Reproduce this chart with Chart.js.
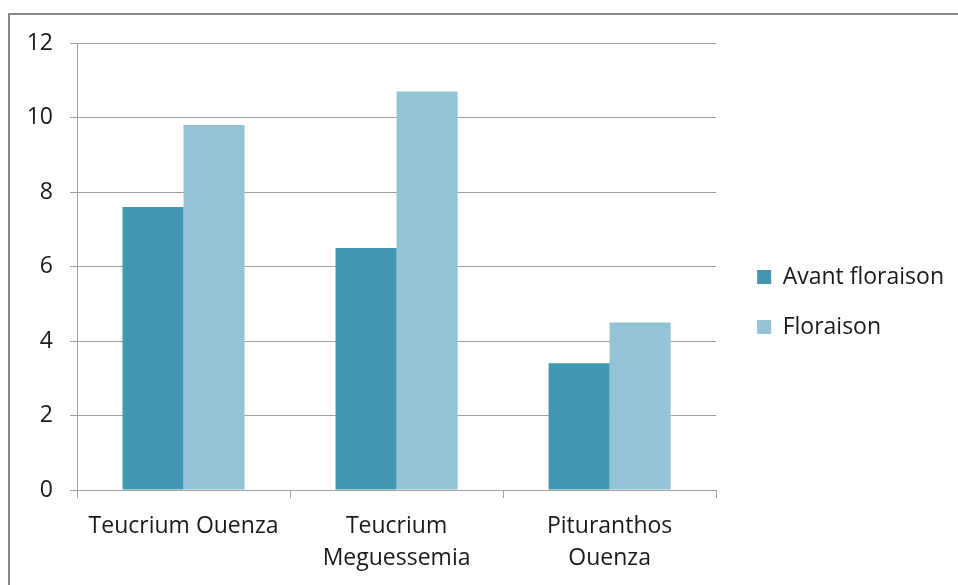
<!DOCTYPE html>
<html>
<head>
<meta charset="utf-8">
<script src="https://cdn.jsdelivr.net/npm/chart.js@4.4.1/dist/chart.umd.min.js"></script>
<style>
  html, body { margin: 0; padding: 0; background: #fff; overflow: hidden; }
  #frame { position: absolute; left: 8px; top: 13px; width: 1100px; height: 800px; border: 2px solid #878787; }
  #wrap { position: absolute; left: 0; top: 0; width: 958px; height: 585px; }
</style>
</head>
<body>
<div id="frame"></div>
<div id="wrap"><canvas id="chart" width="958" height="585"></canvas></div>
<script>
// plant / site groups
const categories = [["Teucrium Ouenza"], ["Teucrium", "Meguessemia"], ["Pituranthos", "Ouenza"]];
const avantFloraison = [7.6, 6.5, 3.4];
const floraison = [9.8, 10.7, 4.5];
const yTicks = [0, 2, 4, 6, 8, 10, 12];

const FONT = "'Open Sans', 'Liberation Sans', sans-serif";
const GRID = "#a0a0a0";

// nudge the legend block a little right and up
const legendNudge = {
  id: 'legendNudge',
  afterLayout(chart) {
    const l = chart.legend;
    l.left += 14; l.right += 14;
    l.top -= 12; l.bottom -= 12;
  }
};

const ctx = document.getElementById('chart');
const chart = new Chart(ctx, {
  type: 'bar',
  data: {
    labels: categories,
    datasets: [
      { label: 'Avant floraison', data: avantFloraison, backgroundColor: '#4397b0' },
      { label: 'Floraison', data: floraison, backgroundColor: '#93c3d4' }
    ]
  },
  plugins: [legendNudge],
  options: {
    responsive: false,
    animation: false,
    devicePixelRatio: 1,
    layout: { padding: { left: 10, top: 43, right: 18, bottom: 0 } },
    datasets: { bar: { barPercentage: 1, categoryPercentage: 0.573 } },
    plugins: {
      tooltip: { enabled: false },
      legend: {
        position: 'right',
        align: 'center',
        labels: {
          color: '#1a1a1a',
          font: { family: FONT, size: 23 },
          boxWidth: 14,
          boxHeight: 14,
          padding: 27
        }
      }
    },
    scales: {
      x: {
        grid: { offset: true, drawOnChartArea: false, color: GRID, tickLength: 8, lineWidth: 1 },
        border: { color: GRID },
        ticks: { color: '#1a1a1a', font: { family: FONT, size: 23, lineHeight: 1.38 }, padding: 13, maxRotation: 0 },
        afterFit: s => { s.height = 95; }
      },
      y: {
        min: 0,
        max: 12,
        afterBuildTicks: s => { s.ticks = yTicks.map(v => ({ value: v })); },
        grid: { color: GRID, tickLength: 7, lineWidth: 1 },
        border: { color: GRID },
        ticks: { color: '#1a1a1a', font: { family: FONT, size: 23 }, padding: 17 },
        afterFit: s => { s.width = 67; }
      }
    }
  }
});
</script>
</body>
</html>
